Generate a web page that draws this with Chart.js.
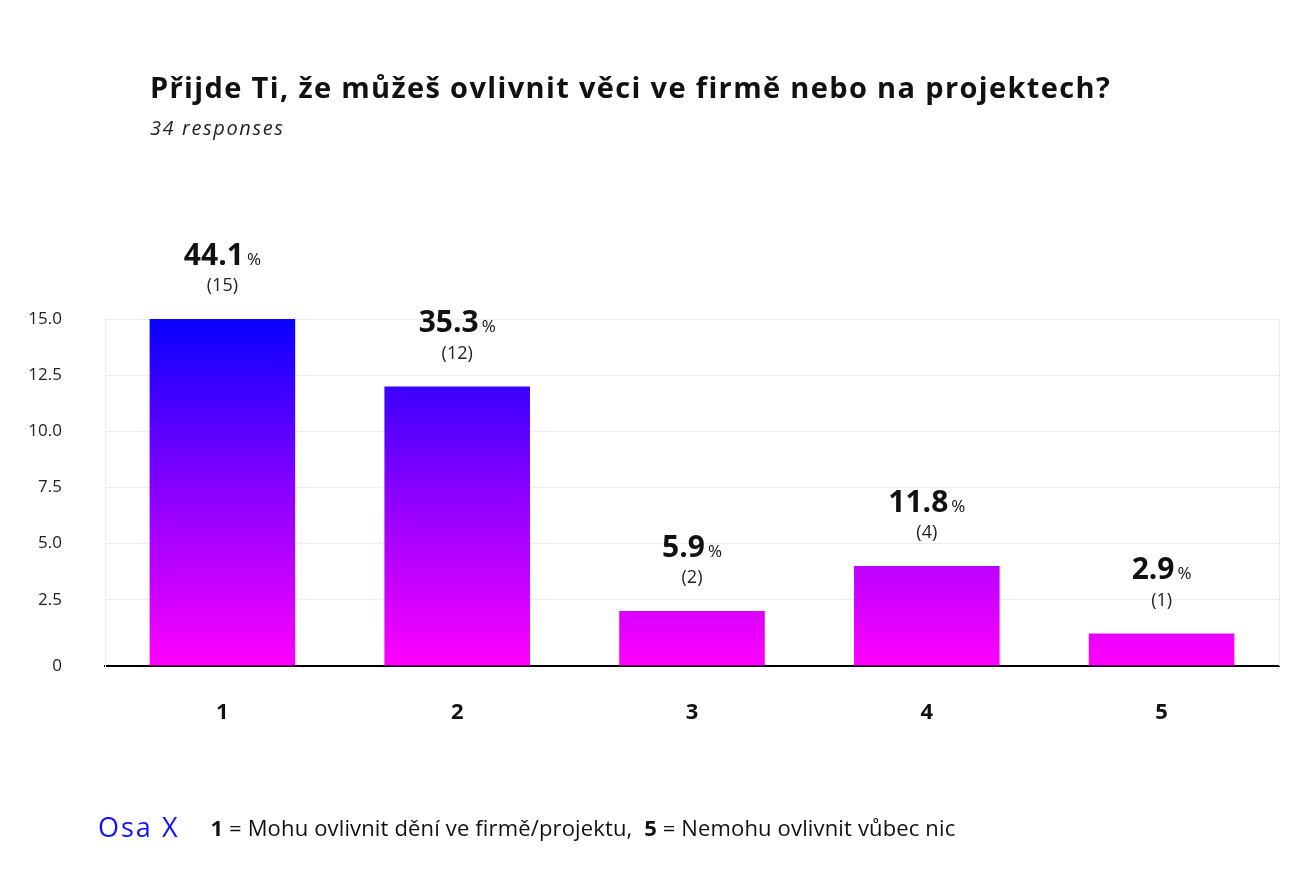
<!DOCTYPE html>
<html>
<head>
<meta charset="utf-8">
<script src="https://cdn.jsdelivr.net/npm/chart.js@4"></script>
<style>
  html, body { margin: 0; padding: 0; background: #fff; }
  body { width: 1314px; height: 890px; position: relative; overflow: hidden; font-family: "Open Sans", Lato, sans-serif; }
  #title { position: absolute; left: 150px; top: 67px; font-size: 29px; font-weight: 700; color: #111; white-space: nowrap; letter-spacing: 1.35px; }
  #subtitle { position: absolute; left: 150px; top: 114px; font-size: 20px; font-style: italic; color: #222; white-space: nowrap; letter-spacing: 1.6px; }
  #wrap { position: absolute; left: 0; top: 0; width: 1314px; height: 890px; }
  #footer { position: absolute; left: 98px; top: 808px; white-space: nowrap; color: #111; }
  #footer .osa { color: #1010ff; font-size: 27px; letter-spacing: 2px; margin-right: 31px; vertical-align: middle; }
  #footer .txt { font-size: 22px; letter-spacing: 0.15px; vertical-align: middle; }
  #footer b { font-weight: 700; }
</style>
</head>
<body>
<div id="wrap"><canvas id="c" width="1314" height="890"></canvas></div>
<div id="title">Přijde Ti, že můžeš ovlivnit věci ve firmě nebo na projektech?</div>
<div id="subtitle">34 responses</div>
<div id="footer"><span class="osa">Osa X</span><span class="txt"><b>1</b> = Mohu ovlivnit dění ve firmě/projektu, &nbsp;<b>5</b> = Nemohu ovlivnit vůbec nic</span></div>
<script>
const categories = ["1", "2", "3", "4", "5"];
const counts = [15, 12, 2, 4, 1];
const totalResponses = 34;
const yTickValues = [0, 2.5, 5, 7.5, 10, 12.5, 15];
const yTickLabels = ["0", "2.5", "5.0", "7.5", "10.0", "12.5", "15.0"];

const AXIS_MIN = -0.45;
const FONT = '"Open Sans", Lato, sans-serif';

function barGradient(ctx) {
  const chart = ctx.chart;
  const area = chart.chartArea;
  if (!area) return '#8000ff';
  const g = chart.ctx.createLinearGradient(0, area.top, 0, area.bottom);
  g.addColorStop(0, '#0800ff');
  g.addColorStop(0.5, '#8a00ff');
  g.addColorStop(1, '#ff00ff');
  return g;
}

const labelPlugin = {
  id: 'barLabels',
  afterDatasetsDraw(chart) {
    const ctx = chart.ctx;
    const meta = chart.getDatasetMeta(0);
    meta.data.forEach((el, i) => {
      const v = counts[i];
      const pct = (v / totalResponses * 100).toFixed(1);
      const x = el.x, top = el.y;
      ctx.save();
      ctx.textBaseline = 'middle';
      ctx.fillStyle = '#111';
      const bigFont = '700 30px ' + FONT;
      const smallFont = '400 17px ' + FONT;
      ctx.font = bigFont;
      const w1 = ctx.measureText(pct).width;
      ctx.font = smallFont;
      const w2 = ctx.measureText('%').width;
      const startX = x - (w1 + w2 + 3) / 2;
      ctx.textAlign = 'left';
      ctx.font = bigFont;
      ctx.fillText(pct, startX, top - 63);
      ctx.font = smallFont;
      ctx.fillText('%', startX + w1 + 3, top - 59);
      ctx.textAlign = 'center';
      ctx.font = '400 18px ' + FONT;
      ctx.fillStyle = '#222';
      ctx.fillText('(' + v + ')', x, top - 33);
      ctx.restore();
    });
    const a = chart.chartArea;
    ctx.save();
    ctx.strokeStyle = '#eceaf8';
    ctx.lineWidth = 1;
    ctx.beginPath();
    ctx.moveTo(a.right + 0.5, a.top);
    ctx.lineTo(a.right + 0.5, a.bottom);
    ctx.stroke();
    ctx.restore();
  }
};

new Chart(document.getElementById('c'), {
  type: 'bar',
  data: {
    labels: categories,
    datasets: [{
      data: counts,
      base: AXIS_MIN,
      backgroundColor: barGradient,
      borderWidth: 0,
      barPercentage: 0.62,
      categoryPercentage: 1
    }]
  },
  options: {
    responsive: false,
    animation: false,
    events: [],
    layout: { padding: { top: 319, left: 3, right: 35, bottom: 164 } },
    plugins: { legend: { display: false }, tooltip: { enabled: false }, title: { display: false } },
    scales: {
      x: {
        afterFit(s) { s.height = 60; },
        grid: { display: false, drawTicks: false },
        border: { display: true, color: '#000', width: 2 },
        ticks: { padding: 34, color: '#111', font: { family: FONT, size: 22, weight: '700' } }
      },
      y: {
        min: AXIS_MIN,
        max: 15,
        afterFit(s) { s.width = 102; },
        afterBuildTicks(s) {
          s.ticks = yTickValues.map((v, i) => ({ value: i === 0 ? AXIS_MIN : v }));
        },
        grid: { color: '#ecebf8', drawTicks: false, lineWidth: 1 },
        border: { display: true, color: '#eceaf8' },
        ticks: {
          padding: 43,
          color: '#222',
          font: { family: FONT, size: 17 },
          callback(value, index) { return yTickLabels[index]; }
        }
      }
    }
  },
  plugins: [labelPlugin]
});
</script>
</body>
</html>
